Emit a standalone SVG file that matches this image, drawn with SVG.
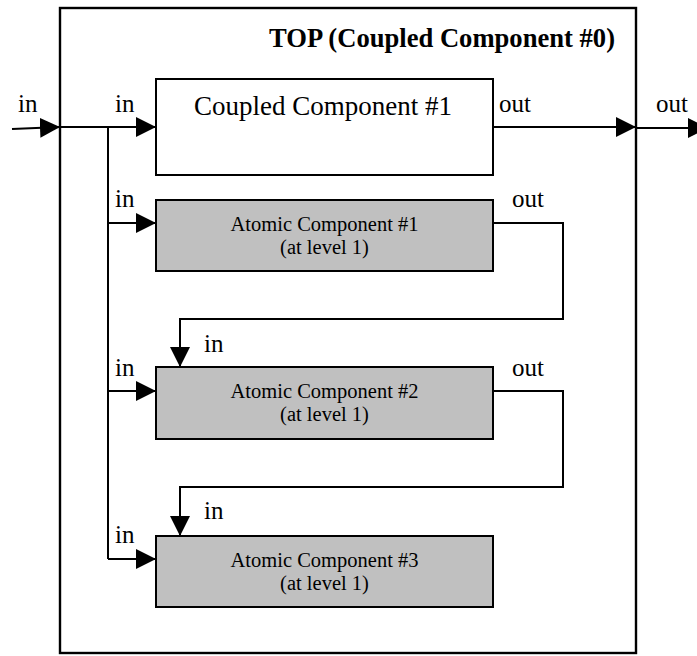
<svg xmlns="http://www.w3.org/2000/svg" width="697" height="656" viewBox="0 0 697 656">
<defs>
<style>
.box{stroke:#000;stroke-width:2}
.cpl{fill:#fff}
.atm{fill:#c0c0c0}
.outer{fill:none;stroke:#000;stroke-width:2.4}
.wire{fill:none;stroke:#000;stroke-width:2}
.lbl{font-family:"Liberation Serif","Times New Roman",serif;font-size:25px;fill:#000}
.big{font-family:"Liberation Serif","Times New Roman",serif;font-size:27px;fill:#000}
.title{font-family:"Liberation Serif","Times New Roman",serif;font-size:26.6px;font-weight:bold;fill:#000}
.sm{font-family:"Liberation Serif","Times New Roman",serif;font-size:20.5px;fill:#000;text-anchor:middle}
</style>
<marker id="arr" viewBox="0 0 20 20" refX="20" refY="10" markerWidth="20" markerHeight="20" markerUnits="userSpaceOnUse" orient="auto">
<path d="M0,0 L20,10 L0,20 Z" fill="#000"/>
</marker>
</defs>
<rect width="697" height="656" fill="#fff"/>
<g id="top">
<rect class="outer" x="60" y="8" width="576" height="645"/>
<text class="title" x="615" y="47" text-anchor="end">TOP (Coupled Component #0)</text>
</g>
<g id="coupled1">
<rect class="box cpl" x="156" y="79" width="337" height="96"/>
<text class="big" x="323" y="115" text-anchor="middle">Coupled Component #1</text>
</g>
<g id="atomic1">
<rect class="box atm" x="156" y="200" width="337" height="71"/>
<text class="sm" x="324.5" y="231">Atomic Component #1</text>
<text class="sm" x="324.5" y="254">(at level 1)</text>
</g>
<g id="atomic2">
<rect class="box atm" x="156" y="367" width="337" height="72"/>
<text class="sm" x="324.5" y="398">Atomic Component #2</text>
<text class="sm" x="324.5" y="421">(at level 1)</text>
</g>
<g id="atomic3">
<rect class="box atm" x="156" y="536" width="337" height="71"/>
<text class="sm" x="324.5" y="567">Atomic Component #3</text>
<text class="sm" x="324.5" y="590">(at level 1)</text>
</g>
<g id="connectors">
<path class="wire" d="M12,129 L60,127" marker-end="url(#arr)"/>
<path class="wire" d="M60,127 L156,127" marker-end="url(#arr)"/>
<path class="wire" d="M108,127 L108,559"/>
<path class="wire" d="M108,223 L156,223" marker-end="url(#arr)"/>
<path class="wire" d="M108,391 L156,391" marker-end="url(#arr)"/>
<path class="wire" d="M108,559 L156,559" marker-end="url(#arr)"/>
<path class="wire" d="M493,127 L636,127" marker-end="url(#arr)"/>
<path class="wire" d="M636,128 L708,128" marker-end="url(#arr)"/>
<path class="wire" d="M493,223 L563,223 L563,319 L180,319 L180,367" marker-end="url(#arr)"/>
<path class="wire" d="M493,391 L563,391 L563,487 L180,487 L180,536" marker-end="url(#arr)"/>
</g>
<g id="labels">
<text class="lbl" x="18" y="112">in</text>
<text class="lbl" x="115" y="112">in</text>
<text class="lbl" x="499" y="112">out</text>
<text class="lbl" x="656" y="112">out</text>
<text class="lbl" x="115" y="207">in</text>
<text class="lbl" x="512" y="207">out</text>
<text class="lbl" x="204" y="352">in</text>
<text class="lbl" x="115" y="376">in</text>
<text class="lbl" x="512" y="376">out</text>
<text class="lbl" x="204" y="519">in</text>
<text class="lbl" x="115" y="543">in</text>
</g>
</svg>
